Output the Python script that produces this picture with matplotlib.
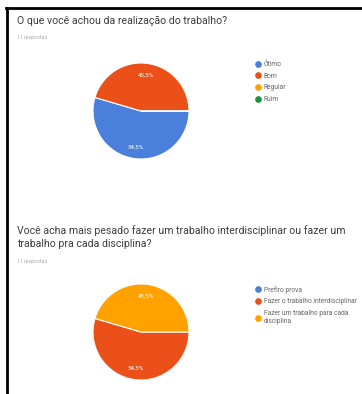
import matplotlib
matplotlib.use("Agg")
import matplotlib.pyplot as plt
from matplotlib.lines import Line2D

# ---------------- DATA ----------------
q1_title = "O que você achou da realização do trabalho?"
q1_labels = ["Ótimo", "Bom", "Regular", "Ruim"]
q1_counts = [6, 5, 0, 0]

q2_title = ("Você acha mais pesado fazer um trabalho interdisciplinar ou fazer um\n"
            "trabalho pra cada disciplina?")
q2_labels = ["Prefiro prova", "Fazer o trabalho interdisciplinar",
             "Fazer um trabalho para cada\ndisciplina"]
q2_counts = [0, 6, 5]

responses = "11 respostas"

q1_colors = ["#4a7fdc", "#ea5017", "#ffa200", "#14973a"]
q2_colors = ["#4a7fdc", "#ea5017", "#ffa200"]

W, H = 362, 394
plt.rcParams['font.family'] = ['Roboto', 'DejaVu Sans']

fig = plt.figure(figsize=(W / 100, H / 100), dpi=100)
fig.patch.set_facecolor("white")


def fx(px):
    return px / W


def fy(py):
    return 1 - py / H


def pct(p):
    if p < 0.5:
        return ""
    return f"{p:.1f}%".replace(".", ",")


def draw_block(title, ty, resp_y, counts, colors, labels, cy, leg_y):
    fig.text(fx(17), fy(ty), title, fontsize=7.6, color="#3c3c3c",
             va="top", ha="left", linespacing=1.4)
    fig.text(fx(17), fy(resp_y), responses, fontsize=3.8, color="#aaaaaa",
             va="center", ha="left")

    r = 48
    ax = fig.add_axes([fx(141 - r), fy(cy + r), 2 * r / W, 2 * r / H])
    ax.pie(counts, colors=colors, startangle=0, counterclock=False,
           autopct=pct, pctdistance=0.75,
           wedgeprops=dict(edgecolor="white", linewidth=0.8),
           textprops=dict(color="white", fontsize=4.4))
    ax.set_xlim(-1, 1)
    ax.set_ylim(-1, 1)
    ax.set_aspect("auto")
    ax.axis("off")

    handles = [Line2D([], [], marker="o", linestyle="", markersize=3.8,
                      markerfacecolor=c, markeredgecolor=c) for c in colors]
    fig.legend(handles, labels, loc="upper left",
               bbox_to_anchor=(fx(255), fy(leg_y)), frameon=False,
               fontsize=4.8, labelcolor="#666666", handletextpad=0.35,
               labelspacing=0.7, handlelength=1.0, borderpad=0,
               borderaxespad=0)


draw_block(q1_title, 16, 37, q1_counts, q1_colors, q1_labels, 111, 61)
draw_block(q2_title, 225, 261, q2_counts, q2_colors, q2_labels, 332, 286)

# screenshot frame
fig.add_artist(Line2D([fx(7), fx(7)], [fy(8), 0], color="black", linewidth=2))
fig.add_artist(Line2D([fx(6), 1], [fy(8), fy(8)], color="black", linewidth=2))

fig.savefig("out.png", dpi=100)
